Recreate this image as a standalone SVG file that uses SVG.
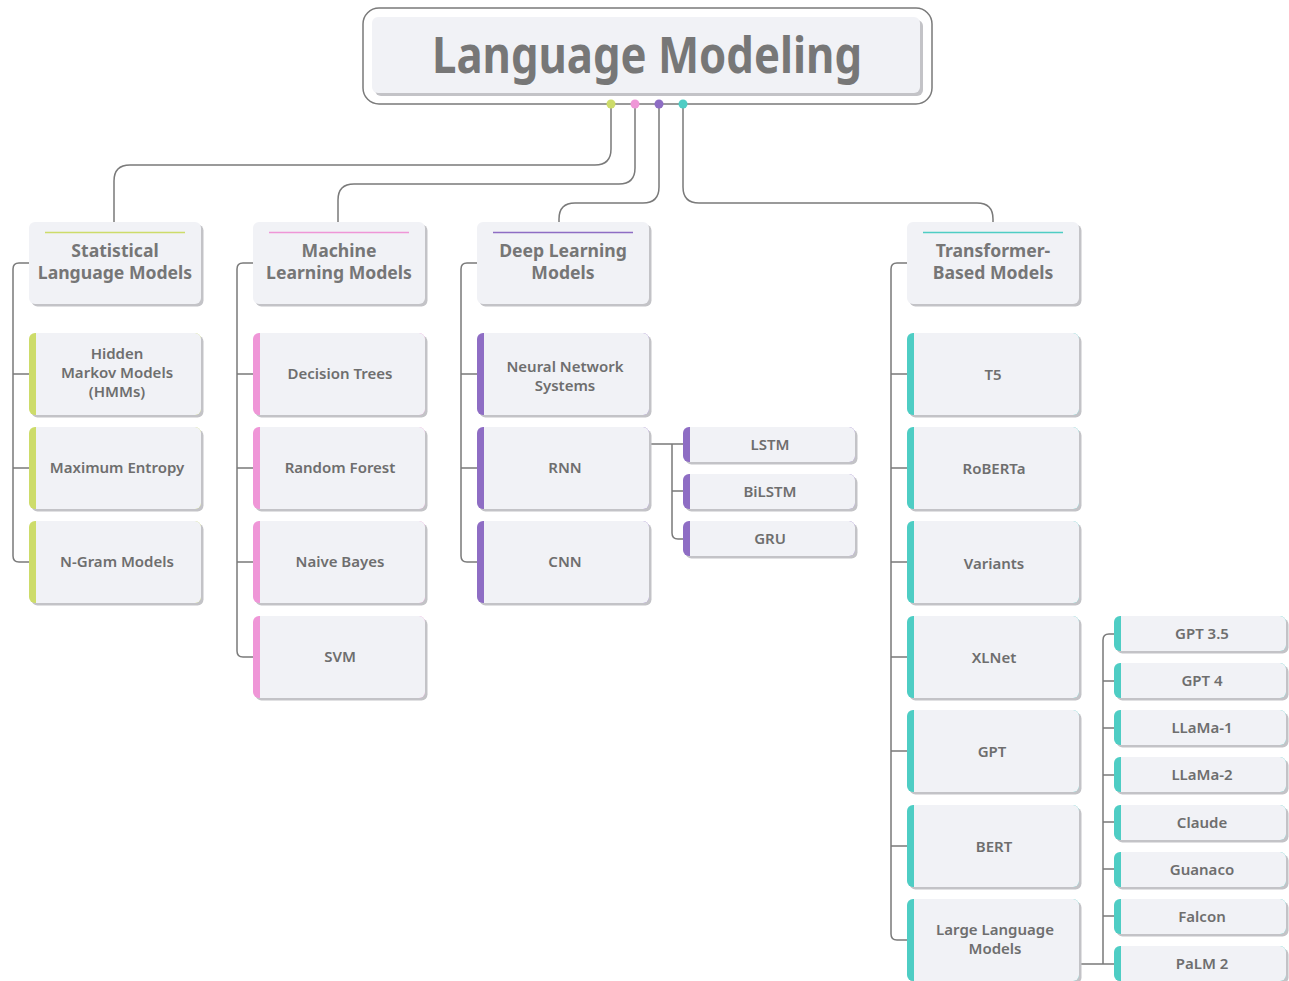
<svg xmlns="http://www.w3.org/2000/svg" xmlns:xlink="http://www.w3.org/1999/xlink" width="1289" height="981" viewBox="0 0 1289 981">
<style>
.t{font-family:"Noto Sans","Open Sans","DejaVu Sans",sans-serif;fill:#6e6e6e;text-anchor:middle}
.leaf{font-size:15px;font-weight:600}
.hd{font-size:17.6px;font-weight:700;fill:#767676}
.title{font-size:50px;font-weight:700;fill:#777777}
.c{fill:none;stroke:#7a7a7a;stroke-width:1.5}
.y{color:#cddc6a}.p{color:#ef96d7}.v{color:#8e6dc4}.g{color:#4ecdc4}
</style>
<defs>
<g id="leafL">
<rect x="2.5" y="2.5" width="172" height="82" rx="6" fill="#c3c3c7"/>
<rect width="172" height="82" rx="6" fill="currentColor"/>
<path d="M7,0 H166 A6,6 0 0 1 172,6 V76 A6,6 0 0 1 166,82 H7 Z" fill="#f1f2f6"/>
</g>
<g id="leafS">
<rect x="2.5" y="2.5" width="172" height="35" rx="6" fill="#c3c3c7"/>
<rect width="172" height="35" rx="6" fill="currentColor"/>
<path d="M7,0 H166 A6,6 0 0 1 172,6 V29 A6,6 0 0 1 166,35 H7 Z" fill="#f1f2f6"/>
</g>
<g id="hdr">
<rect x="2.5" y="2.5" width="172" height="82" rx="6" fill="#c3c3c7"/>
<rect width="172" height="82" rx="6" fill="#f1f2f6"/>
<line x1="16" y1="10.5" x2="156" y2="10.5" stroke="currentColor" stroke-width="1.5"/>
</g>
</defs>
<rect width="1289" height="981" fill="#ffffff"/>

<g id="connectors">
<path class="c" d="M611,104 V149 Q611,165 595,165 H130 Q114,165 114,181 V222"/>
<path class="c" d="M635,104 V168 Q635,184 619,184 H354 Q338,184 338,200 V222"/>
<path class="c" d="M659,104 V187 Q659,203 643,203 H575 Q559,203 559,219 V222"/>
<path class="c" d="M683,104 V187 Q683,203 699,203 H977 Q993,203 993,219 V222"/>
<path class="c" d="M29,263 H19 Q13,263 13,269 V556 Q13,562 19,562 H29 M13,374 H29 M13,468 H29"/>
<path class="c" d="M253,263 H243 Q237,263 237,269 V651 Q237,657 243,657 H253 M237,374 H253 M237,468 H253 M237,562 H253"/>
<path class="c" d="M477,263 H467 Q461,263 461,269 V556 Q461,562 467,562 H477 M461,374 H477 M461,468 H477"/>
<path class="c" d="M907,263 H897 Q891,263 891,269 V934 Q891,940 897,940 H907 M891,374 H907 M891,468 H907 M891,562 H907 M891,657 H907 M891,751 H907 M891,846 H907"/>
<path class="c" d="M649,444 H683 M672,444 V533 Q672,539 678,539 H683 M672,491 H683"/>
<path class="c" d="M1079,964 H1114 M1114,634 H1109 Q1103,634 1103,640 V964 M1103,681 H1114 M1103,728 H1114 M1103,775 H1114 M1103,822 H1114 M1103,869 H1114 M1103,916 H1114"/>
</g>

<g id="title">
<rect x="363" y="8" width="569" height="96" rx="16" fill="#ffffff" stroke="#7a7a7a" stroke-width="1.5"/>
<rect x="375" y="20" width="548" height="76" rx="6" fill="#c3c3c7"/>
<rect x="372" y="17" width="548" height="76" rx="6" fill="#f1f2f6"/>
<text class="t title" x="647" y="73" textLength="430" lengthAdjust="spacingAndGlyphs">Language Modeling</text>
<circle cx="611" cy="104" r="4.5" fill="#cddc6a"/>
<circle cx="635" cy="104" r="4.5" fill="#ef96d7"/>
<circle cx="659" cy="104" r="4.5" fill="#8e6dc4"/>
<circle cx="683" cy="104" r="4.5" fill="#4ecdc4"/>
</g>

<g id="stat-header" class="y"><use href="#hdr" x="29" y="222"/><text class="t hd" x="115" y="257">Statistical</text><text class="t hd" x="115" y="279">Language Models</text></g>
<g id="ml-header" class="p"><use href="#hdr" x="253" y="222"/><text class="t hd" x="339" y="257">Machine</text><text class="t hd" x="339" y="279">Learning Models</text></g>
<g id="dl-header" class="v"><use href="#hdr" x="477" y="222"/><text class="t hd" x="563" y="257">Deep Learning</text><text class="t hd" x="563" y="279">Models</text></g>
<g id="tf-header" class="g"><use href="#hdr" x="907" y="222"/><text class="t hd" x="993" y="257">Transformer-</text><text class="t hd" x="993" y="279">Based Models</text></g>

<g id="hmm" class="y"><use href="#leafL" x="29" y="333"/><text class="t leaf" x="117" y="359">Hidden</text><text class="t leaf" x="117" y="378">Markov Models</text><text class="t leaf" x="117" y="397">(HMMs)</text></g>
<g id="maxent" class="y"><use href="#leafL" x="29" y="427"/><text class="t leaf" x="117" y="473">Maximum Entropy</text></g>
<g id="ngram" class="y"><use href="#leafL" x="29" y="521"/><text class="t leaf" x="117" y="567">N-Gram Models</text></g>

<g id="dtree" class="p"><use href="#leafL" x="253" y="333"/><text class="t leaf" x="340" y="379">Decision Trees</text></g>
<g id="rforest" class="p"><use href="#leafL" x="253" y="427"/><text class="t leaf" x="340" y="473">Random Forest</text></g>
<g id="nbayes" class="p"><use href="#leafL" x="253" y="521"/><text class="t leaf" x="340" y="567">Naive Bayes</text></g>
<g id="svm" class="p"><use href="#leafL" x="253" y="616"/><text class="t leaf" x="340" y="662">SVM</text></g>

<g id="nns" class="v"><use href="#leafL" x="477" y="333"/><text class="t leaf" x="565" y="372">Neural Network</text><text class="t leaf" x="565" y="391">Systems</text></g>
<g id="rnn" class="v"><use href="#leafL" x="477" y="427"/><text class="t leaf" x="565" y="473">RNN</text></g>
<g id="cnn" class="v"><use href="#leafL" x="477" y="521"/><text class="t leaf" x="565" y="567">CNN</text></g>

<g id="lstm" class="v"><use href="#leafS" x="683" y="427"/><text class="t leaf" x="770" y="450">LSTM</text></g>
<g id="bilstm" class="v"><use href="#leafS" x="683" y="474"/><text class="t leaf" x="770" y="497">BiLSTM</text></g>
<g id="gru" class="v"><use href="#leafS" x="683" y="521"/><text class="t leaf" x="770" y="544">GRU</text></g>

<g id="t5" class="g"><use href="#leafL" x="907" y="333"/><text class="t leaf" x="993" y="380">T5</text></g>
<g id="roberta" class="g"><use href="#leafL" x="907" y="427"/><text class="t leaf" x="994" y="474">RoBERTa</text></g>
<g id="variants" class="g"><use href="#leafL" x="907" y="521"/><text class="t leaf" x="994" y="569">Variants</text></g>
<g id="xlnet" class="g"><use href="#leafL" x="907" y="616"/><text class="t leaf" x="994" y="663">XLNet</text></g>
<g id="gpt" class="g"><use href="#leafL" x="907" y="710"/><text class="t leaf" x="992" y="757">GPT</text></g>
<g id="bert" class="g"><use href="#leafL" x="907" y="805"/><text class="t leaf" x="994" y="852">BERT</text></g>
<g id="llm" class="g"><use href="#leafL" x="907" y="899"/><text class="t leaf" x="995" y="935">Large Language</text><text class="t leaf" x="995" y="954">Models</text></g>

<g id="gpt35" class="g"><use href="#leafS" x="1114" y="616"/><text class="t leaf" x="1202" y="639">GPT 3.5</text></g>
<g id="gpt4" class="g"><use href="#leafS" x="1114" y="663"/><text class="t leaf" x="1202" y="686">GPT 4</text></g>
<g id="llama1" class="g"><use href="#leafS" x="1114" y="710"/><text class="t leaf" x="1202" y="733">LLaMa-1</text></g>
<g id="llama2" class="g"><use href="#leafS" x="1114" y="757"/><text class="t leaf" x="1202" y="780">LLaMa-2</text></g>
<g id="claude" class="g"><use href="#leafS" x="1114" y="805"/><text class="t leaf" x="1202" y="828">Claude</text></g>
<g id="guanaco" class="g"><use href="#leafS" x="1114" y="852"/><text class="t leaf" x="1202" y="875">Guanaco</text></g>
<g id="falcon" class="g"><use href="#leafS" x="1114" y="899"/><text class="t leaf" x="1202" y="922">Falcon</text></g>
<g id="palm2" class="g"><use href="#leafS" x="1114" y="946"/><text class="t leaf" x="1202" y="969">PaLM 2</text></g>
</svg>
